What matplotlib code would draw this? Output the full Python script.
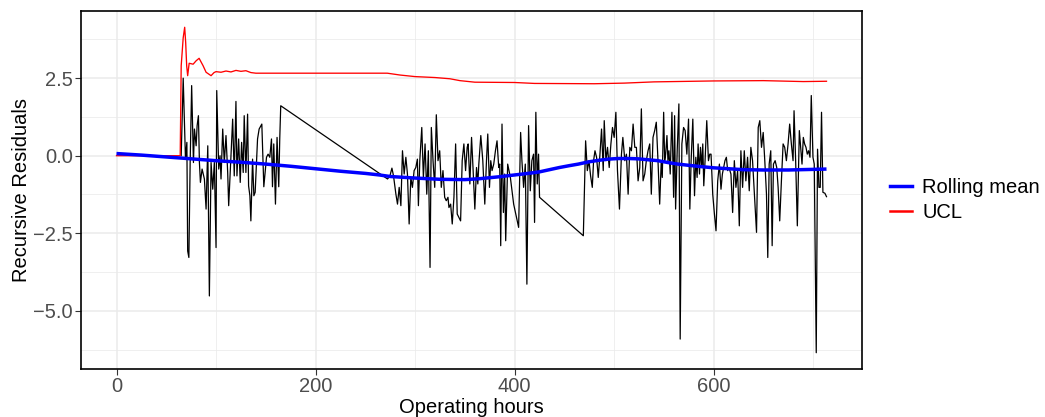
import numpy as np
import matplotlib
matplotlib.use('Agg')
import matplotlib.pyplot as plt
from matplotlib.lines import Line2D

plt.rcParams['font.family'] = ['Liberation Sans', 'DejaVu Sans']

# recursive residuals (black)
hours = [65.0, 67.0, 69.3, 70.7, 71.5, 72.7, 74.0, 75.5, 77.3, 78.3, 80.0, 81.0, 82.3, 83.3, 84.3, 86.0,
         88.3, 90.0, 91.7, 93.3, 95.0, 96.7, 98.3, 100.0, 100.7, 102.7, 104.0, 105.0, 106.7, 108.3,
         110.0, 111.7, 112.7, 115.0, 116.7, 118.3, 120.0, 121.0, 122.7, 124.3, 125.7, 127.3, 128.3,
         130.0, 131.7, 132.7, 134.0, 135.0, 136.7, 138.0, 139.3, 141.7, 143.3, 146.0, 148.0, 150.7,
         152.3, 154.0, 155.7, 156.7, 158.0, 159.7, 161.3, 163.0, 164.0, 165.0,
         272.3, 274.7, 276.7, 278.3, 280.7, 282.3, 284.0, 285.7, 287.3, 289.0, 290.7, 292.3, 294.0,
         295.7, 297.3, 299.0, 300.7, 302.3, 303.3, 304.7, 306.7, 308.3, 310.0, 311.7, 313.3, 315.0,
         316.3, 318.0, 319.7, 321.3, 323.0, 324.7, 326.3, 328.0, 329.7, 331.3, 333.0, 334.0, 335.7,
         337.3, 339.0, 340.7, 342.3, 344.0, 345.7, 347.3, 349.0, 350.7, 352.3, 353.3, 355.0, 356.7,
         358.3, 360.0, 361.7, 363.0, 364.0, 366.0, 368.0, 370.0, 371.7, 373.0, 374.7, 376.0, 377.3,
         379.0, 380.7, 382.3, 384.0, 385.0, 386.0, 387.3, 388.7, 390.0, 391.0, 393.0, 395.7, 399.0,
         404.0, 406.0, 407.3, 409.0, 410.7, 412.3, 414.0, 415.7, 417.3, 419.0, 420.0, 421.3, 422.7,
         424.0, 425.0,
         469.0, 471.3, 473.0, 474.7, 476.3, 478.0, 479.3, 480.7, 482.3, 484.0, 485.7, 487.3, 489.0,
         490.0, 491.7, 493.3, 495.0, 496.7, 498.3, 500.0, 501.7, 503.3, 505.3, 507.3, 508.7, 510.7,
         512.3, 514.0, 515.7, 517.3, 519.0, 520.7, 522.3, 524.0, 525.7, 527.3, 529.0, 530.7, 532.3,
         534.0, 535.7, 537.3, 539.0, 540.7, 542.3, 544.0, 545.7, 547.3, 548.3, 549.7, 550.7, 551.7,
         553.0, 554.0, 555.0, 556.3, 558.0, 559.7, 560.7, 561.7, 563.3, 565.0, 566.3, 568.0, 569.7,
         571.3, 573.0, 574.7, 576.0, 577.3, 579.0, 580.7, 582.0, 583.3, 584.3, 585.7, 586.7, 588.0,
         589.0, 590.0, 591.3, 593.0, 594.7, 596.0, 597.3, 599.0, 600.7, 602.3, 604.0, 605.7, 607.3,
         608.7, 610.0, 611.3, 612.7, 614.0, 615.3, 617.3, 619.0, 620.7, 622.3, 624.0, 625.7, 627.3,
         629.0, 630.7, 632.3, 634.0, 635.7, 637.3, 639.0, 640.7, 643.0, 644.7, 646.3, 648.0, 649.7,
         651.3, 653.0, 654.3, 655.7, 657.3, 658.7, 660.0, 661.7, 663.3, 664.7, 666.3, 668.0, 669.7,
         671.3, 673.0, 674.7, 676.3, 678.0, 679.7, 680.7, 682.3, 684.0, 686.0, 687.3, 688.7, 690.0,
         691.3, 692.7, 694.0, 695.3, 696.7, 698.0, 699.7, 701.0, 703.0, 704.3, 705.7, 707.0, 708.3,
         709.7, 711.7, 713.3]
resid = [0.00, 2.50, -0.11, 0.43, -3.07, -3.28, -0.22, 2.26, -0.22, 0.86, 0.32, 0.97, 1.29, -0.22, -0.86, -0.43,
         -0.75, -1.72, 0.32, -4.52, -0.22, -1.08, -0.22, -2.96, 2.10, -0.43, 0.00, -0.75, 0.86, -0.22,
         0.65, -0.54, -1.61, 0.00, 1.18, -0.65, 1.75, -0.65, 0.54, -0.86, 0.43, -0.54, 1.29,
         -0.54, 1.34, -0.97, -1.29, -2.10, -0.11, -1.29, -1.18, 0.54, 0.86, 1.02, -1.00, -0.05,
         0.05, -0.05, 0.54, -1.00, 0.38, -1.56, 0.59, -1.00, 0.54, 1.61,
         -0.75, -0.65, -0.40, -0.65, -1.24, -1.56, -1.02, -1.61, 0.16, -0.59, -0.05, -0.59, -2.20,
         -0.70, -1.02, -0.48, -0.38, -0.11, -1.61, -0.16, 0.91, -0.70, 0.38, -1.24, 0.16, -3.60,
         0.91, -0.16, -1.02, 1.32, -0.16, 0.16, -1.02, -0.48, -1.34, -1.45, -1.34, -1.67, -1.56,
         -2.20, -1.34, 0.38, -1.88, -1.99, -2.10, -0.16, 0.38, -0.48, 0.27, 0.38, -0.91, 0.59,
         -0.48, -1.72, -0.38, -0.91, -0.27, 0.65, -0.16, -1.56, -0.16, 0.70, -1.02, -0.16, -0.48,
         -0.27, 0.16, 0.48, -0.38, -0.27, -2.90, 1.02, -1.83, -0.59, -2.74, -0.27, -0.70, -1.56,
         -2.31, 0.75, -0.16, -1.02, -0.27, -4.14, 0.97, -1.13, -0.16, 0.05, -2.15, 1.40, -0.91,
         0.05, -1.34,
         -2.58, 0.48, -0.48, -0.16, -0.65, -1.02, -0.16, 0.16, -0.05, -0.70, 0.05, 0.86, -0.48,
         1.13, -0.16, 0.27, -0.38, 0.38, 0.91, 0.59, 1.40, -0.48, -1.72, 0.05, 0.59, -0.16,
         0.05, -1.24, 0.27, 0.16, 1.02, 0.27, 0.27, -0.81, -0.38, 1.51, -0.81, -0.59, -0.16,
         0.16, 0.38, -1.24, 0.59, 0.81, 1.08, -0.16, -1.56, -0.16, -0.70, 1.40, -0.16, 0.05,
         0.65, -0.16, 0.16, -0.59, 1.40, -1.34, 1.29, -1.72, 0.16, 1.67, -5.91, 0.38, 0.91,
         0.81, 0.05, 1.18, -1.72, -0.16, 1.18, -1.29, -0.05, -0.70, 0.38, -0.59, 0.27, -0.38,
         0.38, -0.97, -0.16, 1.13, -0.16, 0.05, 0.05, -1.24, -1.88, -2.42, -0.81, -0.27, -1.08,
         -0.59, -0.38, -0.16, -0.05, -0.48, -0.38, -0.59, -1.83, -0.16, -1.02, -0.48, -2.26, 0.16,
         -1.02, 0.16, -0.81, -0.05, -1.13, 0.27, -0.16, -1.13, -2.47, 0.91, 1.13, 0.27, 0.75,
         -0.16, -1.24, -3.28, -0.27, 0.16, -2.90, -0.27, -0.16, -0.38, -1.02, -2.10, -0.81, 0.38,
         0.27, -0.16, 0.38, 1.02, 0.38, -0.16, 1.45, -0.16, -2.26, 0.81, 0.27, -0.27, 0.59,
         0.38, 0.27, 0.05, 0.16, -0.05, 1.94, -0.05, -0.27, -6.35, 0.21, -1.02, -1.02, 1.40,
         -1.18, -1.21, -1.32]

# upper control limit (red)
ucl_hours = [0, 64, 65, 67, 68.5, 69.5, 70.5, 71.5, 73, 77, 80, 83, 87, 90, 95, 98, 100, 105, 110, 115,
             120, 125, 130, 135, 140, 150, 200, 272, 285, 300, 320, 335, 345, 360, 400, 420, 480, 510,
             540, 600, 650, 690, 713.3]
ucl = [0.0, 0.0, 2.90, 3.80, 4.14, 3.65, 2.90, 2.58, 2.98, 2.95, 3.06, 3.14, 2.90, 2.69, 2.58, 2.68,
       2.71, 2.69, 2.73, 2.70, 2.75, 2.72, 2.74, 2.68, 2.66, 2.66, 2.66, 2.66, 2.60, 2.55, 2.52, 2.48,
       2.42, 2.37, 2.36, 2.33, 2.32, 2.34, 2.38, 2.41, 2.42, 2.39, 2.40]

# rolling mean (blue)
rm_hours = [0, 25, 50, 75, 100, 125, 150, 175, 200, 225, 250, 264, 275, 300, 325, 350, 365, 384, 400,
            416, 425, 435, 445, 455, 464, 474, 484, 494, 504, 514, 524, 534, 544, 554, 564, 575, 587,
            600, 615, 630, 650, 675, 700, 713.3]
rm = [0.07, 0.02, -0.04, -0.10, -0.16, -0.21, -0.27, -0.34, -0.42, -0.50, -0.57, -0.62, -0.67, -0.72,
      -0.76, -0.77, -0.74, -0.68, -0.62, -0.56, -0.52, -0.45, -0.38, -0.32, -0.27, -0.20, -0.15, -0.11,
      -0.09, -0.09, -0.10, -0.13, -0.16, -0.22, -0.27, -0.31, -0.35, -0.39, -0.42, -0.45, -0.46, -0.46,
      -0.44, -0.43]

FS = 14.5

fig = plt.figure(figsize=(10.45, 4.17), dpi=100)
ax = fig.add_axes([81/1045, 1 - 369/417, (862 - 81)/1045, (369 - 11)/417])

ax.plot(hours, resid, color='black', lw=0.9, zorder=3)
ax.plot(ucl_hours, ucl, color='#FF0000', lw=0.95, zorder=4)
ax.plot(rm_hours, rm, color='#0000FF', lw=2.5, zorder=5, solid_capstyle='butt')

# ggplot-like expansion
xmin, xmax = 0, max(hours)
ymin, ymax = min(resid), max(ucl)
ax.set_xlim(xmin - 0.05 * (xmax - xmin), xmax + 0.05 * (xmax - xmin))
ax.set_ylim(ymin - 0.05 * (ymax - ymin), ymax + 0.05 * (ymax - ymin))

ax.set_xticks([0, 200, 400, 600])
ax.set_xticks([100, 300, 500, 700], minor=True)
ax.set_yticks([-5.0, -2.5, 0.0, 2.5])
ax.set_yticks([-6.25, -3.75, -1.25, 1.25, 3.75], minor=True)
ax.set_yticklabels(['\u22125.0', '\u22122.5', '0.0', '2.5'])
ax.grid(which='major', color='#EBEBEB', lw=1.1, zorder=0)
ax.grid(which='minor', color='#EBEBEB', lw=0.55, zorder=0)
ax.set_axisbelow(True)
ax.tick_params(which='major', length=4, width=0.8, color='#333333', labelcolor='#4D4D4D',
               labelsize=FS, pad=2)
ax.tick_params(which='minor', length=0)
for s in ax.spines.values():
    s.set_color('black')
    s.set_linewidth(1.2)

ax.set_xlabel('Operating hours', fontsize=FS, labelpad=1)
ax.set_ylabel('Recursive Residuals', fontsize=FS, labelpad=1.5)

handles = [Line2D([], [], color='#0000FF', lw=2.5), Line2D([], [], color='#FF0000', lw=1.8)]
fig.legend(handles, ['Rolling mean', 'UCL'], loc='center left', bbox_to_anchor=(882/1045, 1 - 200/417),
           frameon=False, fontsize=FS, handlelength=1.1, handletextpad=0.5, labelspacing=0.3,
           borderaxespad=0)

fig.savefig('out.png', dpi=100, facecolor='white')
